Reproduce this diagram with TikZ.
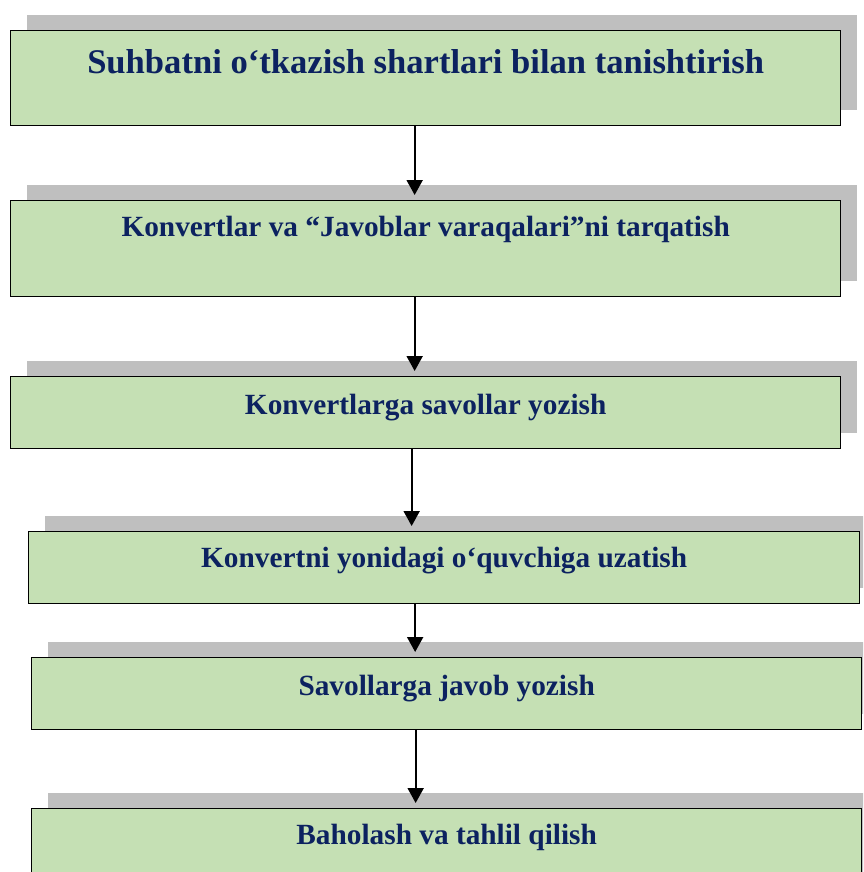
\documentclass[tikz,border=0pt]{standalone}
\usepackage{fontspec}
\setmainfont{Liberation Serif}
\usetikzlibrary{arrows.meta,shadows}
\definecolor{boxgreen}{RGB}{197,224,180}
\definecolor{shadowgray}{RGB}{191,191,191}
\definecolor{textblue}{RGB}{12,34,96}
\tikzset{
  stage/.style={draw=black,line width=1.3pt,fill=boxgreen,anchor=north west,
    inner xsep=0pt,inner ysep=0pt,minimum width=830pt,align=center,
    font=\bfseries\fontsize{29.3}{32}\selectfont,text=textblue,
    drop shadow={shadow xshift=16pt,shadow yshift=16pt,fill=shadowgray,opacity=1}},
  flow/.style={-{Triangle[length=15pt,width=16pt]},line width=2pt,shorten >=5pt}
}
\begin{document}
\begin{tikzpicture}[x=1pt,y=-1pt]
\clip (0,0) rectangle (863,872);

\node[stage,font=\bfseries\fontsize{34.6}{38}\selectfont,text height=43pt,text depth=52pt] (b1) at (10,30)
  {Suhbatni o‘tkazish shartlari bilan tanishtirish};
\node[stage,text height=36pt,text depth=60pt] (b2) at (10,200)
  {Konvertlar va “Javoblar varaqalari”ni tarqatish};
\node[stage,text height=38pt,text depth=34pt] (b3) at (10,376)
  {Konvertlarga savollar yozish};
\node[stage,minimum width=831pt,text height=36pt,text depth=36pt] (b4) at (28,531)
  {Konvertni yonidagi o‘quvchiga uzatish};
\node[stage,text height=38pt,text depth=34pt] (b5) at (31,657)
  {Savollarga javob yozish};
\node[stage,text height=36pt,text depth=44pt] (b6) at (31,808)
  {Baholash va tahlil qilish};

\foreach \a/\b/\s in {b1/b2/-11,b2/b3/-11,b3/b4/-14,b4/b5/-29,b5/b6/-31}{
  \draw[flow] ([xshift=\s pt]\a.south) -- ([xshift=\s pt]\a.south |- \b.north);
}
\end{tikzpicture}
\end{document}
